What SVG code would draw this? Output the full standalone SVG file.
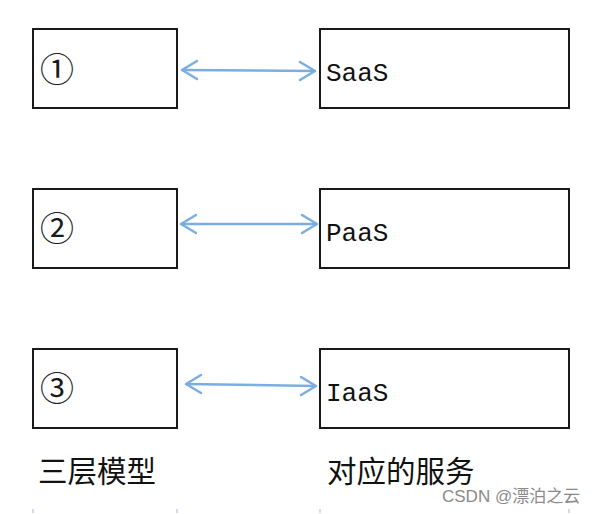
<svg xmlns="http://www.w3.org/2000/svg" width="592" height="514" viewBox="0 0 592 514">
<style>
.box{fill:#fff;stroke:#1a1a1a;stroke-width:2}
.num{font-family:"Noto Sans CJK SC",sans-serif;font-size:34px;fill:#1a1a1a}
.svc{font-family:"Liberation Mono","DejaVu Sans Mono",monospace;font-size:26px;fill:#111}
.cap{font-family:"Noto Sans CJK SC",sans-serif;font-size:29.5px;fill:#111}
.wm{font-family:"Liberation Sans","Noto Sans CJK SC",sans-serif;font-size:17px;fill:#8a8a8a}
.conn line{stroke:#7aaee0;stroke-width:2.5}
.conn path{fill:none;stroke:#7aaee0;stroke-width:2.5;stroke-linecap:round;stroke-linejoin:round}
.tick{stroke:#c9cde0;stroke-width:1.5}
</style>
<rect width="592" height="514" fill="#fff"/>
<g id="layer1"><rect class="box" x="33" y="29" width="144" height="79"/><text class="num" x="40" y="82">①</text></g>
<g id="layer2"><rect class="box" x="33" y="189" width="144" height="79"/><text class="num" x="40" y="241">②</text></g>
<g id="layer3"><rect class="box" x="33" y="349" width="144" height="79"/><text class="num" x="40" y="401">③</text></g>
<g id="saas"><rect class="box" x="320" y="29" width="249" height="79"/><text class="svc" x="326" y="81">SaaS</text></g>
<g id="paas"><rect class="box" x="320" y="189" width="249" height="79"/><text class="svc" x="326" y="241">PaaS</text></g>
<g id="iaas"><rect class="box" x="320" y="349" width="249" height="79"/><text class="svc" x="326" y="401">IaaS</text></g>
<g class="conn">
<line x1="182" y1="70" x2="315" y2="71"/>
<path d="M197 61 L182 70 L197 79"/><path d="M300 62 L315 71 L300 80"/>
<line x1="181" y1="224" x2="317" y2="224"/>
<path d="M196 215 L181 224 L196 233"/><path d="M302 215 L317 224 L302 233"/>
<line x1="186" y1="384" x2="316" y2="386"/>
<path d="M201 375 L186 384 L201 393"/><path d="M301 377 L316 386 L301 395"/>
</g>
<text class="cap" x="38" y="482">三层模型</text>
<text class="cap" x="327" y="482">对应的服务</text>
<text class="wm" x="442" y="502">CSDN @漂泊之云</text>
<g class="tick">
<line x1="33" y1="509" x2="33" y2="513"/><line x1="177" y1="509" x2="177" y2="513"/>
<line x1="320" y1="509" x2="320" y2="513"/><line x1="569" y1="509" x2="569" y2="513"/>
</g>
</svg>
